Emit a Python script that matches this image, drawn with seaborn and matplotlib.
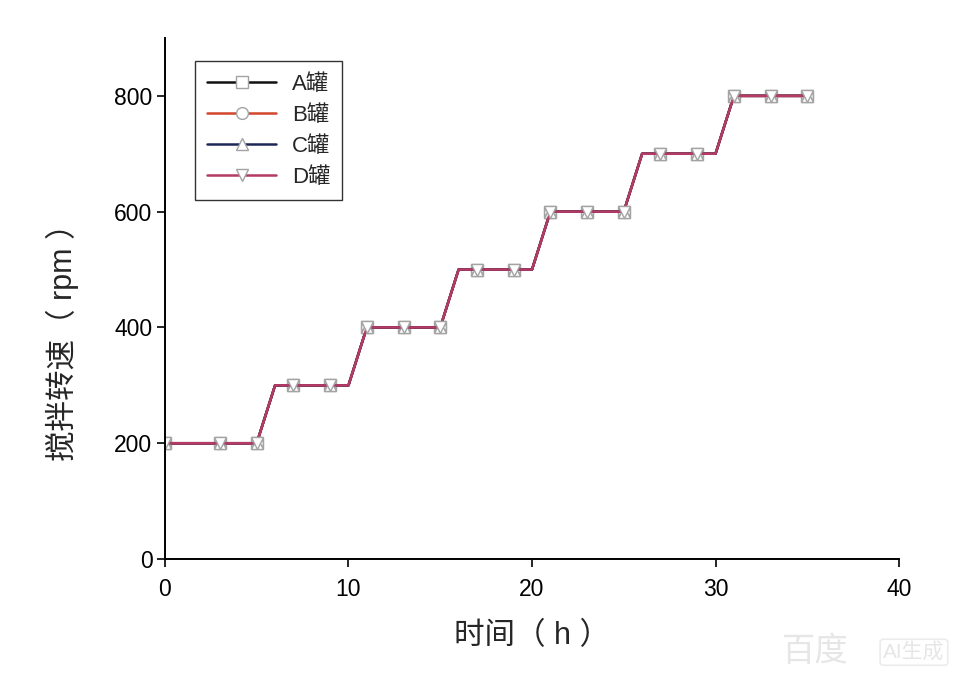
import pandas as pd
import matplotlib
matplotlib.use('Agg')
import matplotlib.pyplot as plt
import seaborn as sns

# stirring speed of the four tanks over time (all four schedules coincide)
time_h = [0, 3, 5, 6, 7, 9, 10, 11, 13, 15, 16, 17, 19, 20, 21, 23, 25, 26, 27, 29, 30, 31, 33, 35]
speed_A = [200, 200, 200, 300, 300, 300, 300, 400, 400, 400, 500, 500, 500, 500, 600, 600, 600, 700, 700, 700, 700, 800, 800, 800]
speed_B = [200, 200, 200, 300, 300, 300, 300, 400, 400, 400, 500, 500, 500, 500, 600, 600, 600, 700, 700, 700, 700, 800, 800, 800]
speed_C = [200, 200, 200, 300, 300, 300, 300, 400, 400, 400, 500, 500, 500, 500, 600, 600, 600, 700, 700, 700, 700, 800, 800, 800]
speed_D = [200, 200, 200, 300, 300, 300, 300, 400, 400, 400, 500, 500, 500, 500, 600, 600, 600, 700, 700, 700, 700, 800, 800, 800]
# only the measured points carry a marker
measured = [1, 1, 1, 0, 1, 1, 0, 1, 1, 1, 0, 1, 1, 0, 1, 1, 1, 0, 1, 1, 0, 1, 1, 1]
tanks = ['A罐', 'B罐', 'C罐', 'D罐']

frames = []
for name, vals in zip(tanks, [speed_A, speed_B, speed_C, speed_D]):
    frames.append(pd.DataFrame({'time': time_h, 'speed': vals, 'tank': name, 'measured': measured}))
df = pd.concat(frames, ignore_index=True)

colors = {'A罐': '#111111', 'B罐': '#d2472c', 'C罐': '#1e2857', 'D罐': '#b53a66'}
markers = {'A罐': 's', 'B罐': 'o', 'C罐': '^', 'D罐': 'v'}

sns.set_style('ticks')
plt.rcParams['font.family'] = ['Liberation Sans', 'Noto Sans CJK SC', 'DejaVu Sans']

fig = plt.figure(figsize=(9.59, 6.78), dpi=100)
ax = fig.add_axes([0.172, 0.1755, 0.7655, 0.7685])

for name in tanks:
    sub = df[df['tank'] == name]
    sns.lineplot(data=sub, x='time', y='speed', color=colors[name], lw=1.8,
                 marker=markers[name], markevery=[bool(m) for m in sub['measured']],
                 markersize=8.5, markerfacecolor='white', markeredgecolor='#a3a3a3',
                 markeredgewidth=1.0, label=name, ax=ax, estimator=None, sort=False)

ax.set_xlim(0, 40)
ax.set_ylim(0, 900)
ax.set_xticks([0, 10, 20, 30, 40])
ax.set_yticks([0, 200, 400, 600, 800])
ax.tick_params(axis='both', direction='out', length=6, width=1.2, labelsize=16.5, colors='black')
ax.tick_params(axis='x', pad=8)
ax.tick_params(axis='y', pad=3)
for side in ['top', 'right']:
    ax.spines[side].set_visible(False)
for side in ['left', 'bottom']:
    ax.spines[side].set_linewidth(1.4)
    ax.spines[side].set_color('black')

ax.set_xlabel('时间（ h ）', fontsize=22, labelpad=14)
ax.set_ylabel('搅拌转速（ rpm ）', fontsize=22, labelpad=25, y=0.43)

leg = ax.legend(loc='upper left', bbox_to_anchor=(0.041, 0.955), fontsize=16, frameon=True,
                fancybox=False, edgecolor='black', handlelength=3.1, labelspacing=0.45,
                borderpad=0.55, handletextpad=0.7, borderaxespad=0)
leg.get_frame().set_linewidth(1.0)

# faint watermark in the lower right corner
fig.text(0.885, 0.038, '百度', fontsize=24, color='#e6e6e6', ha='right', va='center')
fig.text(0.985, 0.038, 'AI生成', fontsize=15, color='#e6e6e6', ha='right', va='center',
         bbox=dict(boxstyle='round,pad=0.15', fc='none', ec='#ececec', lw=1.2))

fig.savefig('out.png', dpi=100, facecolor='white')
